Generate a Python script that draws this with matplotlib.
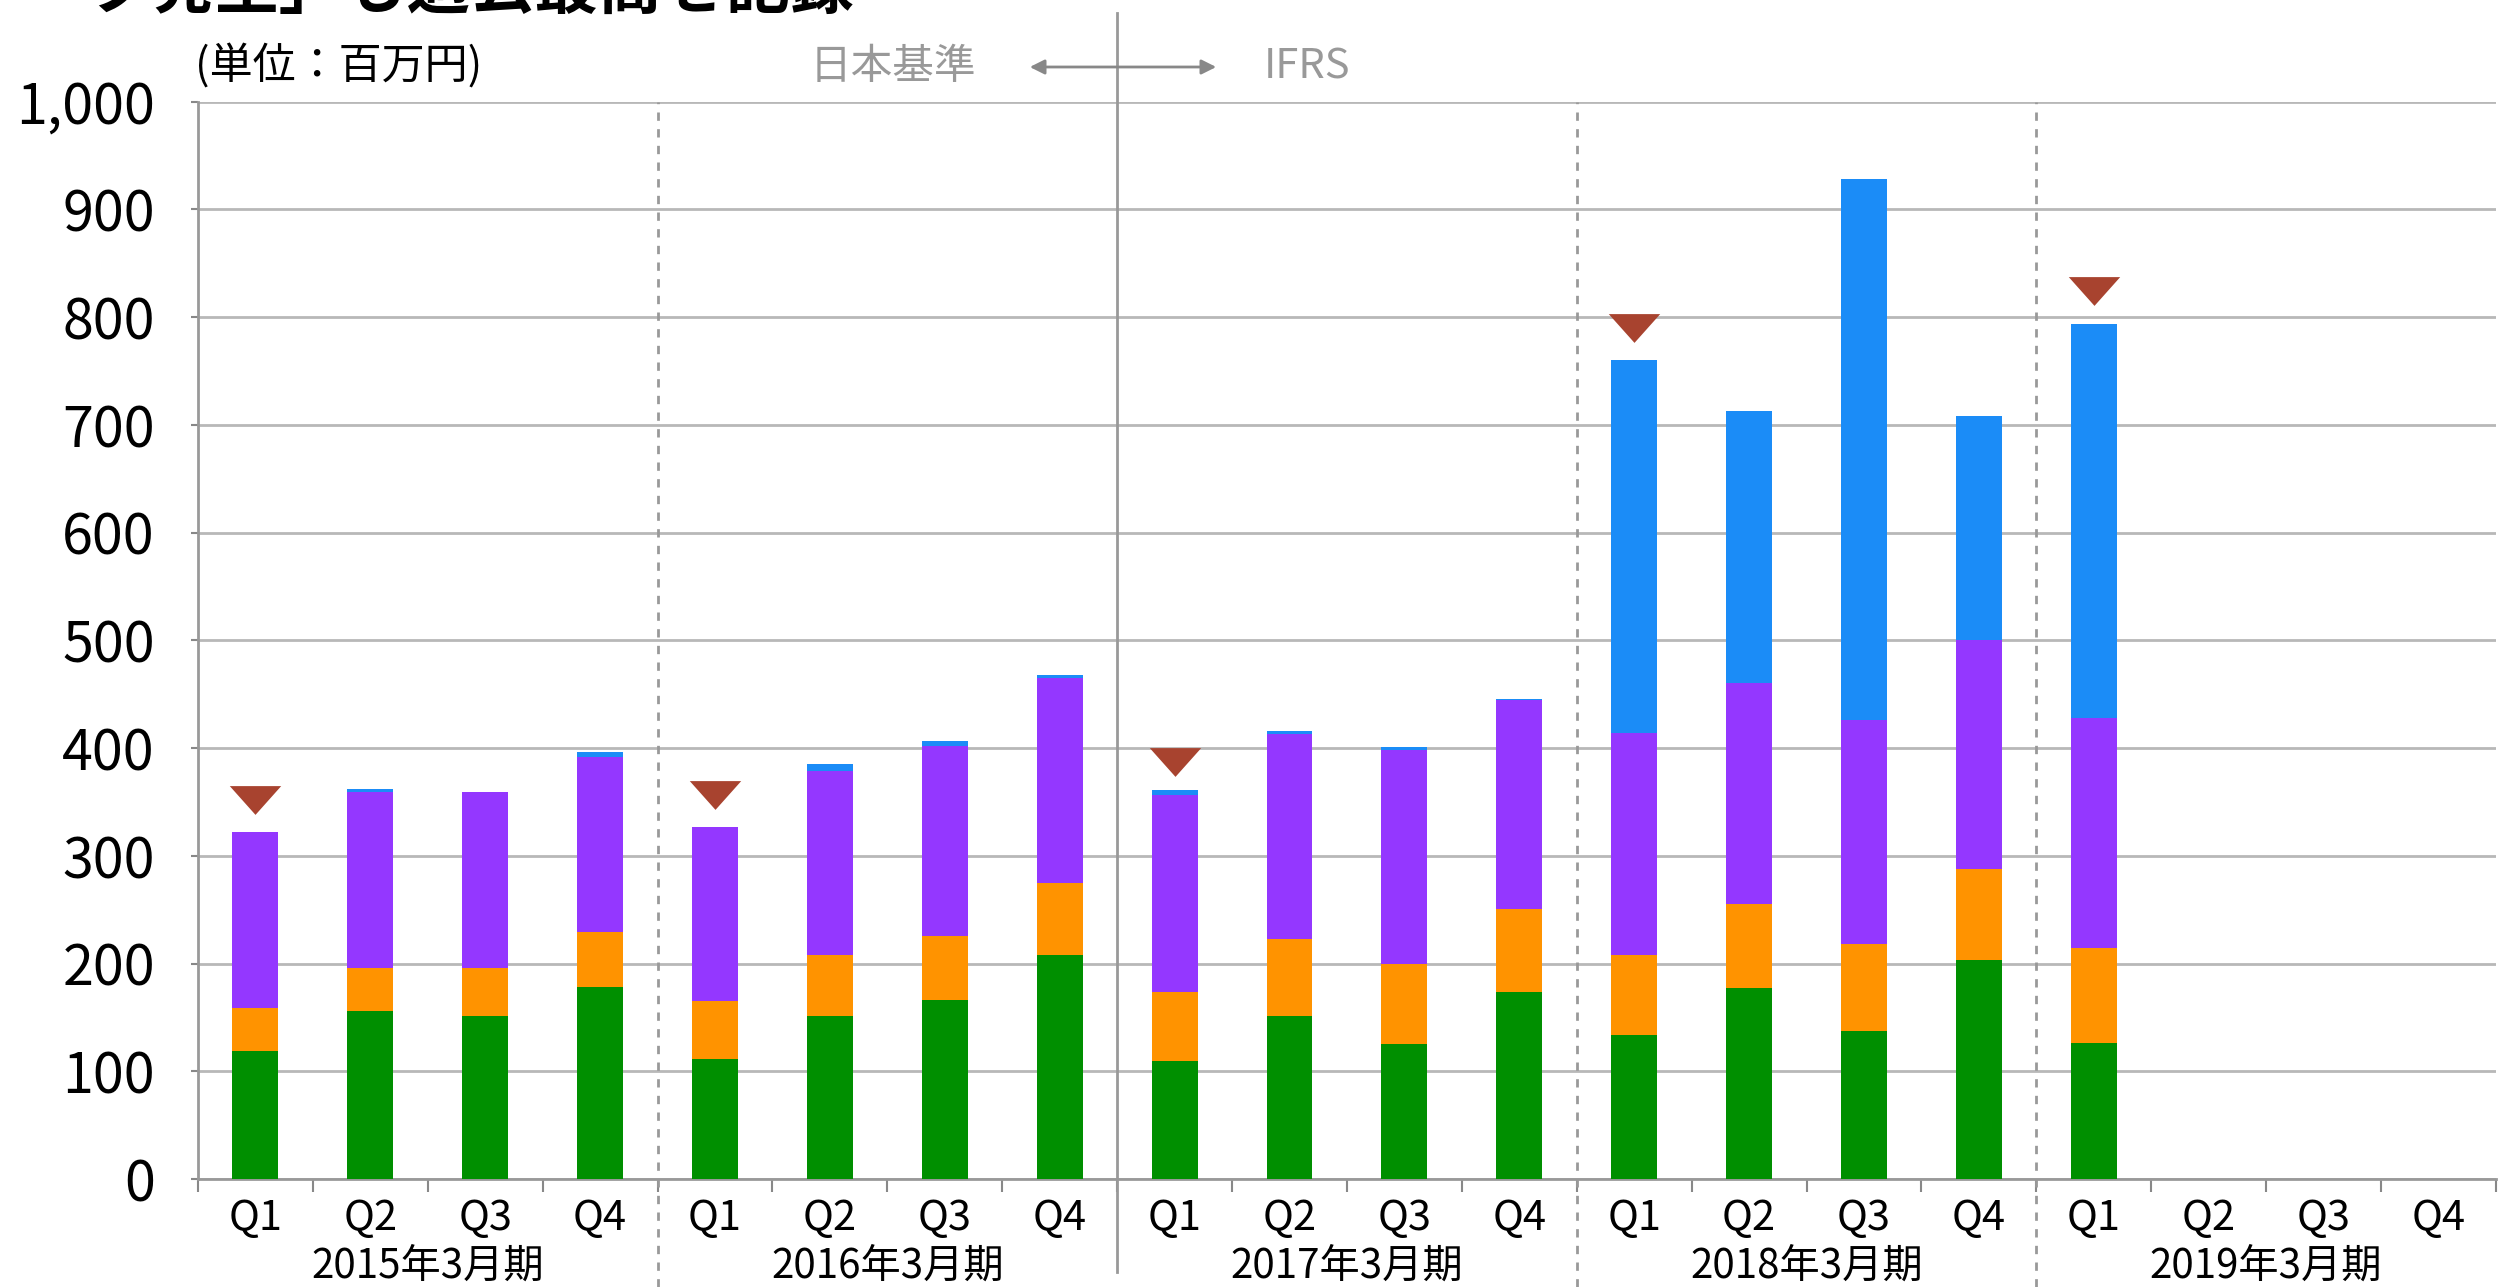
import numpy as np
import matplotlib
matplotlib.use("Agg")
import matplotlib.pyplot as plt
from matplotlib.transforms import blended_transform_factory

plt.rcParams['font.family'] = ['Noto Sans CJK JP', 'DejaVu Sans']

# Data (百万円), quarters from 2015年3月期 Q1 to 2019年3月期 Q1
years = ["2015年3月期", "2016年3月期", "2017年3月期", "2018年3月期", "2019年3月期"]
quarters = ["Q1", "Q2", "Q3", "Q4"]
green = [119, 156, 151, 178, 111, 151, 166, 208, 110, 151, 125, 174, 134, 177, 137, 203, 126]
orange = [40, 40, 45, 51, 54, 57, 60, 67, 64, 72, 75, 77, 74, 78, 81, 85, 88]
purple = [163, 163, 163, 163, 162, 171, 176, 190, 182, 190, 198, 194, 206, 205, 208, 212, 214]
blue = [0, 3, 0, 4, 0, 6, 5, 3, 5, 3, 3, 1, 346, 253, 502, 208, 366]
marker_idx = [0, 4, 8, 12, 16]
marker_val = [352, 356, 387, 790, 824]

c_green = "#008F00"
c_orange = "#FF9300"
c_purple = "#9437FF"
c_blue = "#1B8CF7"
c_marker = "#A8432F"
c_grid = "#B8B8B8"

n_slots = len(years) * len(quarters)
x = np.arange(len(green))

fig = plt.figure(figsize=(25.09, 12.87), dpi=100)
ax = fig.add_axes([0.0789, 0.0839, 0.9159, 0.8371])

g = np.array(green)
o = np.array(orange)
p = np.array(purple)
b = np.array(blue)
w = 0.4
ax.bar(x, g, width=w, color=c_green, zorder=3)
ax.bar(x, o, width=w, bottom=g, color=c_orange, zorder=3)
ax.bar(x, p, width=w, bottom=g + o, color=c_purple, zorder=3)
ax.bar(x, b, width=w, bottom=g + o + p, color=c_blue, zorder=3)

tri = [(-1, 0.56), (1, 0.56), (0, -0.56)]
ax.plot(marker_idx, marker_val, linestyle="none", marker=tri, markersize=37,
        color=c_marker, markeredgewidth=0, zorder=4)

ax.set_xlim(-0.5, n_slots - 0.5)
ax.set_ylim(0, 1000)
ax.set_yticks(range(0, 1001, 100))
ax.set_yticklabels([f"{v:,}" for v in range(0, 1001, 100)], fontsize=40)
ax.yaxis.grid(True, color=c_grid, linewidth=2, zorder=0)
ax.tick_params(axis="y", length=5, width=1.5, color="#888888", pad=26)

ax.set_xticks(np.arange(-0.5, n_slots, 1))
ax.set_xticklabels([])
ax.tick_params(axis="x", length=9, width=1.5, color="#888888", direction="out")

for s in ["top", "right"]:
    ax.spines[s].set_visible(False)
for s in ["left", "bottom"]:
    ax.spines[s].set_color("#999999")
    ax.spines[s].set_linewidth(2)

trans = blended_transform_factory(ax.transData, ax.transAxes)
for i in range(n_slots):
    ax.text(i, -0.037, quarters[i % 4], transform=trans, ha="center", va="center",
            fontsize=30)
for k, yl in enumerate(years):
    ax.text(4 * k + 1.5, -0.081, yl, transform=trans, ha="center", va="center",
            fontsize=29)

# year separators
for k in range(1, len(years)):
    xs = 4 * k - 0.5
    if k == 2:
        ax.axvline(xs, ymin=-0.0863, ymax=1.0822, color="#999999", linewidth=2,
                   clip_on=False, zorder=5)
    else:
        ax.axvline(xs, ymin=-0.1002, ymax=1.0, color="#999999", linewidth=2,
                   linestyle=(0, (3, 3)), clip_on=False, zorder=5)

# header annotations
fig.text(195 / 2509, 1 - 67 / 1287, "(単位：百万円)", fontsize=31, ha="left", va="center")
fig.text(893 / 2509, 1 - 67 / 1287, "日本基準", fontsize=30, color="#999999",
         ha="center", va="center")
fig.text(1264 / 2509, 1 - 67 / 1287, "IFRS", fontsize=30, color="#999999",
         ha="left", va="center")
fig.add_artist(matplotlib.patches.FancyArrowPatch(
    (1027 / 2509, 1 - 67 / 1287), (1219 / 2509, 1 - 67 / 1287),
    transform=fig.transFigure, arrowstyle="<|-|>", mutation_scale=22,
    color="#888888", linewidth=2))

# clipped title at top
fig.text(88 / 2509, 1 - 8 / 1287, "ク発生」も過去最高を記録", fontsize=46,
         ha="left", va="baseline", fontweight="bold")

fig.savefig("out.png", dpi=100)
